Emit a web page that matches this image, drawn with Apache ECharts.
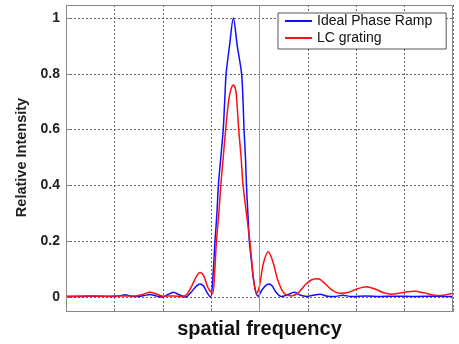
<!DOCTYPE html>
<html>
<head>
<meta charset="utf-8">
<script src="https://cdn.jsdelivr.net/npm/echarts@6/dist/echarts.min.js"></script>
<style>
  html, body { margin: 0; padding: 0; background: #fff; }
  #chart { width: 459px; height: 344px; }
</style>
</head>
<body>
<div id="chart"></div>
<script>
// values (x in grid units 0..8)
const seriesNames = ['Ideal Phase Ramp', 'LC grating']

const idealX = [0.0, 0.3, 0.6, 0.9, 1.1, 1.22, 1.35, 1.5, 1.62, 1.74, 1.86, 2.0, 2.1, 2.22, 2.34, 2.47,
  2.6, 2.7, 2.77, 2.84, 2.92, 2.99, 3.04, 3.08, 3.12, 3.15, 3.2, 3.25, 3.28, 3.31, 3.38, 3.46,
  3.54, 3.63, 3.66, 3.68, 3.71, 3.73, 3.76, 3.79, 3.84, 3.87, 3.92, 3.97, 4.05, 4.12, 4.19, 4.26,
  4.35, 4.45, 4.58, 4.72, 4.85, 4.98, 5.1, 5.25, 5.4, 5.55, 5.72, 5.9, 6.2, 6.5, 6.8, 7.2, 7.6, 8.0]
const idealY = [0.002, 0.002, 0.003, 0.002, 0.004, 0.008, 0.003, 0.002, 0.005, 0.009, 0.004, 0.0, 0.008, 0.017, 0.008, 0.0,
  0.02, 0.04, 0.047, 0.04, 0.015, 0.0, 0.08, 0.2, 0.3, 0.4, 0.5, 0.6, 0.7, 0.8, 0.9, 1.0,
  0.9, 0.8, 0.7, 0.6, 0.5, 0.4, 0.3, 0.2, 0.12, 0.07, 0.02, 0.003, 0.025, 0.04, 0.047, 0.04,
  0.015, 0.002, 0.008, 0.017, 0.006, 0.002, 0.006, 0.01, 0.003, 0.002, 0.006, 0.002, 0.004, 0.002, 0.003, 0.002, 0.003, 0.002]

const lcX = [0.0, 0.4, 0.8, 1.2, 1.45, 1.6, 1.74, 1.88, 2.0, 2.22, 2.4, 2.5, 2.6, 2.7, 2.77, 2.85,
  2.93, 3.03, 3.07, 3.11, 3.16, 3.2, 3.25, 3.3, 3.36, 3.41, 3.46, 3.51, 3.54, 3.57, 3.62, 3.66,
  3.73, 3.8, 3.88, 3.94, 4.0, 4.08, 4.18, 4.27, 4.38, 4.5, 4.66, 4.8, 4.95, 5.08, 5.21, 5.34,
  5.5, 5.68, 5.85, 6.0, 6.21, 6.4, 6.55, 6.73, 6.9, 7.05, 7.2, 7.4, 7.55, 7.66, 7.8, 7.95, 8.0]
const lcY = [0.003, 0.004, 0.003, 0.004, 0.004, 0.01, 0.017, 0.01, 0.003, 0.004, 0.002, 0.01, 0.04, 0.075, 0.088, 0.075,
  0.035, 0.012, 0.08, 0.2, 0.3, 0.4, 0.5, 0.6, 0.7, 0.745, 0.76, 0.74, 0.68, 0.6, 0.5, 0.4,
  0.3, 0.2, 0.06, 0.012, 0.04, 0.12, 0.162, 0.13, 0.06, 0.015, 0.004, 0.015, 0.045, 0.062, 0.065, 0.05,
  0.025, 0.013, 0.017, 0.028, 0.037, 0.028, 0.016, 0.01, 0.014, 0.019, 0.021, 0.015, 0.008, 0.005, 0.006, 0.012, 0.013]

const zip = (xs, ys) => xs.map((x, i) => [x, ys[i]])

const font = 'Liberation Sans, Arial, sans-serif'
const chart = echarts.init(document.getElementById('chart'))

const dotted = { color: '#666', width: 1, type: [2, 2] }

chart.setOption({
  animation: false,
  backgroundColor: '#fff',
  textStyle: { fontFamily: font },
  grid: [
    // frame grid (full box)
    { left: 66, right: 6, top: 5, height: 307 },
    // data grid (0..1)
    { left: 66, right: 6, top: 18, height: 279 },
  ],
  xAxis: [
    {
      gridIndex: 0, type: 'value', min: 0, max: 8, interval: 1,
      axisLine: { show: false },
      axisTick: { show: true, inside: true, length: 4, lineStyle: { color: '#888' } },
      axisLabel: { show: false },
      splitLine: { show: true, lineStyle: dotted },
      name: 'spatial frequency', nameLocation: 'middle', nameGap: 7,
      nameTextStyle: { fontFamily: font, fontSize: 20, fontWeight: 'bold', color: '#111' },
    },
    { gridIndex: 1, type: 'value', min: 0, max: 8, show: false },
  ],
  yAxis: [
    { gridIndex: 0, type: 'value', min: 0, max: 1, show: false },
    {
      gridIndex: 1, type: 'value', min: 0, max: 1, interval: 0.2,
      axisLine: { show: false },
      axisTick: { show: true, inside: true, length: 4, lineStyle: { color: '#888' } },
      axisLabel: {
        fontFamily: font, fontSize: 14, fontWeight: 'bold', color: '#222', margin: 6,
        formatter: v => String(+v.toFixed(1)),
      },
      splitLine: { show: true, lineStyle: dotted },
      name: 'Relative Intensity', nameLocation: 'middle', nameRotate: 90, nameGap: 31,
      nameTextStyle: { fontFamily: font, fontSize: 14.5, fontWeight: 'bold', color: '#222' },
    },
  ],
  legend: {
    data: seriesNames,
    orient: 'vertical',
    left: 278, top: 13,
    icon: 'rect', itemWidth: 27, itemHeight: 2, itemGap: 3, itemTextGap: 9,
    padding: [1, 14, 4, 7],
    backgroundColor: '#fff', borderColor: '#555', borderWidth: 1, borderRadius: 0,
    textStyle: { fontFamily: font, fontSize: 14, lineHeight: 14, color: '#111' },
  },
  graphic: [
    {
      type: 'rect', z: 100, silent: true,
      shape: { x: 66.5, y: 5.5, width: 386, height: 306 },
      style: { fill: 'none', stroke: '#888', lineWidth: 1 },
    },
  ],
  series: [
    {
      name: 'ref', type: 'line', xAxisIndex: 0, yAxisIndex: 0, data: [],
      markLine: {
        silent: true, symbol: 'none', label: { show: false },
        lineStyle: { color: '#999', type: 'solid', width: 1 },
        data: [{ xAxis: 4 }],
      },
    },
    {
      name: seriesNames[0], type: 'line', xAxisIndex: 1, yAxisIndex: 1,
      data: zip(idealX, idealY), showSymbol: false, symbol: 'none',
      smooth: 0.3, clip: false, color: '#1010ff',
      lineStyle: { width: 1.5, color: '#1010ff' },
    },
    {
      name: seriesNames[1], type: 'line', xAxisIndex: 1, yAxisIndex: 1,
      data: zip(lcX, lcY), showSymbol: false, symbol: 'none',
      smooth: 0.3, clip: false, color: '#ff1010',
      lineStyle: { width: 1.5, color: '#ff1010' },
    },
  ],
})
</script>
</body>
</html>
